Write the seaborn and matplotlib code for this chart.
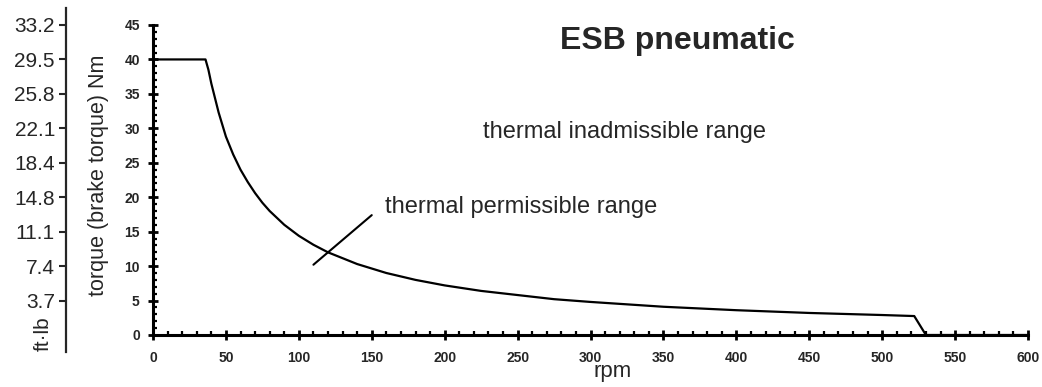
import numpy as np
import matplotlib
matplotlib.use("Agg")
import matplotlib.pyplot as plt
from matplotlib.ticker import MultipleLocator, FixedLocator
import seaborn as sns

# values
rpm = [0, 36, 38, 40, 45, 50, 55, 60, 65, 70, 75, 80, 90, 100, 110, 120, 140, 160, 180, 200,
       225, 250, 275, 300, 350, 400, 450, 500, 522, 530, 600]
torque_nm = [40, 40, 38.5, 36.5, 32.3, 28.8, 26.2, 24.0, 22.2, 20.6, 19.2, 18.0, 16.0, 14.4,
             13.1, 12.0, 10.3, 9.0, 8.0, 7.2, 6.4, 5.8, 5.2, 4.8, 4.1, 3.6, 3.2, 2.9, 2.75, 0, 0]
nm_ticks = [5, 10, 15, 20, 25, 30, 35, 40, 45]
ftlb_labels = ["3.7", "7.4", "11.1", "14.8", "18.4", "22.1", "25.8", "29.5", "33.2"]

sns.set_style("ticks")
plt.rcParams["font.family"] = ["Liberation Sans", "DejaVu Sans"]

W, H = 1042, 387
fig = plt.figure(figsize=(W / 100, H / 100), dpi=100)
ax = fig.add_axes([153 / W, 52 / H, 875 / W, 310 / H])

sns.lineplot(x=rpm, y=torque_nm, sort=False, color="black", lw=1.6, ax=ax)

ax.set_xlim(0, 600)
ax.set_ylim(0, 45)
for s in ["top", "right"]:
    ax.spines[s].set_visible(False)
for s in ["left", "bottom"]:
    ax.spines[s].set_linewidth(2.2)
    ax.spines[s].set_color("black")

ax.xaxis.set_major_locator(MultipleLocator(50))
ax.xaxis.set_minor_locator(MultipleLocator(10))
ax.yaxis.set_major_locator(MultipleLocator(5))
ax.yaxis.set_minor_locator(MultipleLocator(1))
ax.tick_params(which="major", direction="inout", length=7, width=2, color="black",
               labelsize=10, pad=6)
ax.tick_params(axis="x", which="major", pad=8)
ax.tick_params(which="minor", direction="in", length=3, width=1.6, color="black")
for lab in ax.get_xticklabels() + ax.get_yticklabels():
    lab.set_fontweight("bold")

ax.set_ylabel("torque (brake torque) Nm", fontsize=15.5)
ax.yaxis.set_label_coords(-0.05, 0.515)
ax.set_xlabel("rpm", fontsize=16)
ax.xaxis.set_label_coords(0.525, -0.085)

# ft·lb scale on a separate spine
ax2 = fig.add_axes([66 / W, 52 / H, 0.001, 310 / H])
ax2.set_ylim(0, 45)
ax2.set_xticks([])
for s in ["top", "right", "bottom"]:
    ax2.spines[s].set_visible(False)
ax2.spines["left"].set_linewidth(1.6)
ax2.spines["left"].set_bounds(-2.5, 47.5)
ax2.yaxis.set_major_locator(FixedLocator(nm_ticks))
ax2.set_yticklabels(ftlb_labels)
ax2.tick_params(axis="y", direction="out", length=5, width=1.5, labelsize=15, pad=3)
ax2.patch.set_visible(False)

fig.text(43 / W, 1 - 334 / H, "ft·lb", rotation=90, fontsize=15, ha="center", va="center")

# annotations
fig.text(677 / W, 1 - 49 / H, "ESB pneumatic", fontsize=23, fontweight="bold",
         ha="center", va="baseline")
ax.text(0.539, 0.655, "thermal inadmissible range", transform=ax.transAxes,
        fontsize=17, ha="center", va="center")
ax.text(0.265, 0.413, "thermal permissible range", transform=ax.transAxes,
        fontsize=17, ha="left", va="center")
ax.plot([110, 150], [10.2, 17.4], color="black", lw=1.5)

fig.savefig("out.png", dpi=100)
